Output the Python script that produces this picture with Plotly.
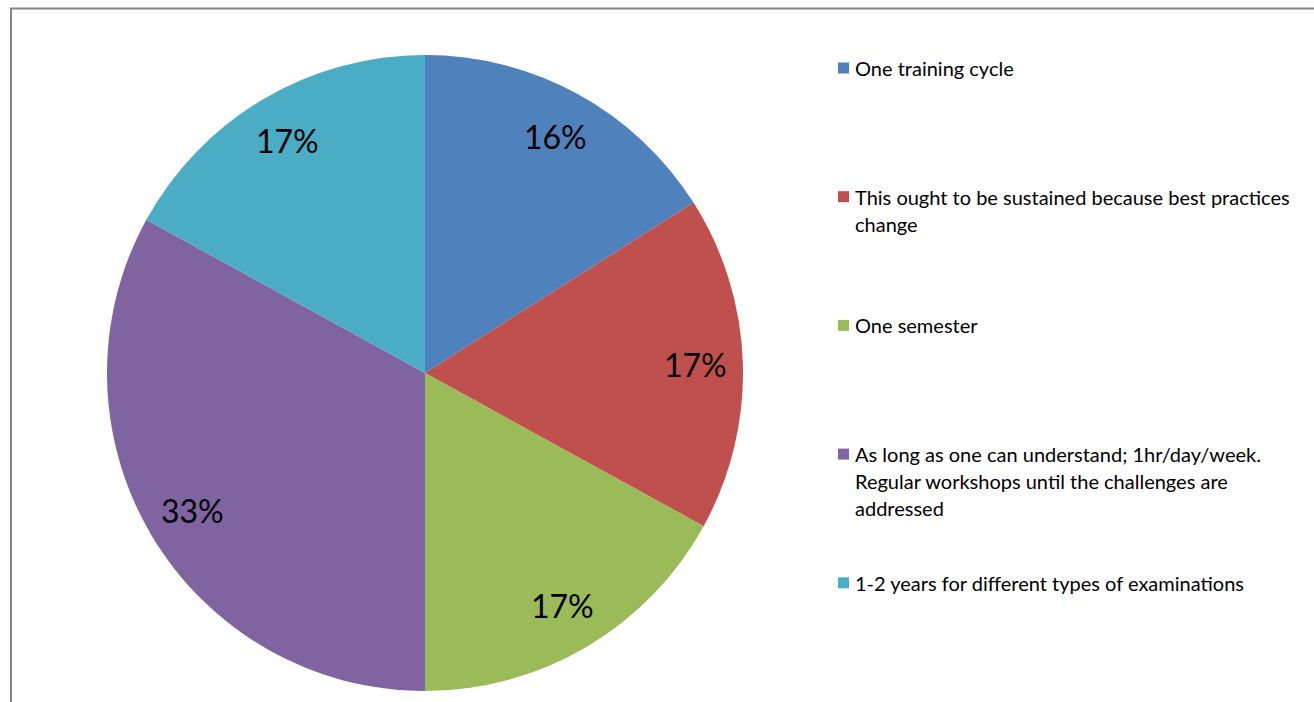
import plotly.graph_objects as go
import math

# Survey responses: how long should the training last?
labels = [
    "One training cycle",
    "This ought to be sustained because best practices<br>change",
    "One semester",
    "As long as one can understand; 1hr/day/week.<br>Regular workshops until the challenges are<br>addressed",
    "1-2 years for different types of examinations",
]
values = [16, 17, 17, 33, 17]
colors = ["#4F81BD", "#C0504D", "#9BBB59", "#8064A2", "#4BACC6"]

W, H = 1314, 702
FONT = "Lato, Carlito, Calibri, sans-serif"

# pie placement in pixels
cx, cy, R = 425, 373, 318

fig = go.Figure(
    go.Pie(
        labels=labels,
        values=values,
        sort=False,
        direction="clockwise",
        rotation=0,
        marker=dict(colors=colors, line=dict(width=0)),
        textinfo="none",
        hoverinfo="label+percent",
        showlegend=False,
        domain=dict(x=[(cx - R) / W, (cx + R) / W], y=[1 - (cy + R) / H, 1 - (cy - R) / H]),
    )
)

annotations = []
shapes = []

# percentage labels along each slice's bisector
total = sum(values)
cum = 0
for v in values:
    mid = (cum + v / 2) / total * 2 * math.pi
    cum += v
    r = 0.85 * R
    px = cx + r * math.sin(mid)
    py = cy - r * math.cos(mid)
    annotations.append(dict(
        x=px / W, y=1 - py / H, xref="paper", yref="paper",
        text=f"{round(100 * v / total)}%", showarrow=False,
        font=dict(family=FONT, size=32, color="#000000"),
        xanchor="center", yanchor="middle",
    ))

# legend drawn on the right
leg_x, leg_top, leg_step, line_h = 838, 68, 128.7, 27
for i, (lab, col) in enumerate(zip(labels, colors)):
    y0 = leg_top + i * leg_step
    shapes.append(dict(
        type="rect", xref="paper", yref="paper",
        x0=leg_x / W, x1=(leg_x + 11) / W,
        y0=1 - (y0 - 5.5) / H, y1=1 - (y0 + 5.5) / H,
        fillcolor=col, line=dict(width=0),
    ))
    for j, line in enumerate(lab.split("<br>")):
        annotations.append(dict(
            x=(leg_x + 15) / W, y=1 - (y0 + j * line_h) / H,
            xref="paper", yref="paper", text=line, showarrow=False,
            font=dict(family=FONT, size=20, color="#000000"),
            xanchor="left", yanchor="middle",
        ))

# chart area border
shapes.append(dict(
    type="rect", xref="paper", yref="paper",
    x0=11 / W, x1=1.05, y0=-0.05, y1=1 - 8.5 / H,
    line=dict(color="#868686", width=2), fillcolor="rgba(0,0,0,0)",
))

fig.update_layout(
    width=W, height=H,
    margin=dict(l=0, r=0, t=0, b=0),
    paper_bgcolor="white", plot_bgcolor="white",
    annotations=annotations, shapes=shapes,
)

fig.write_html("out.html")
